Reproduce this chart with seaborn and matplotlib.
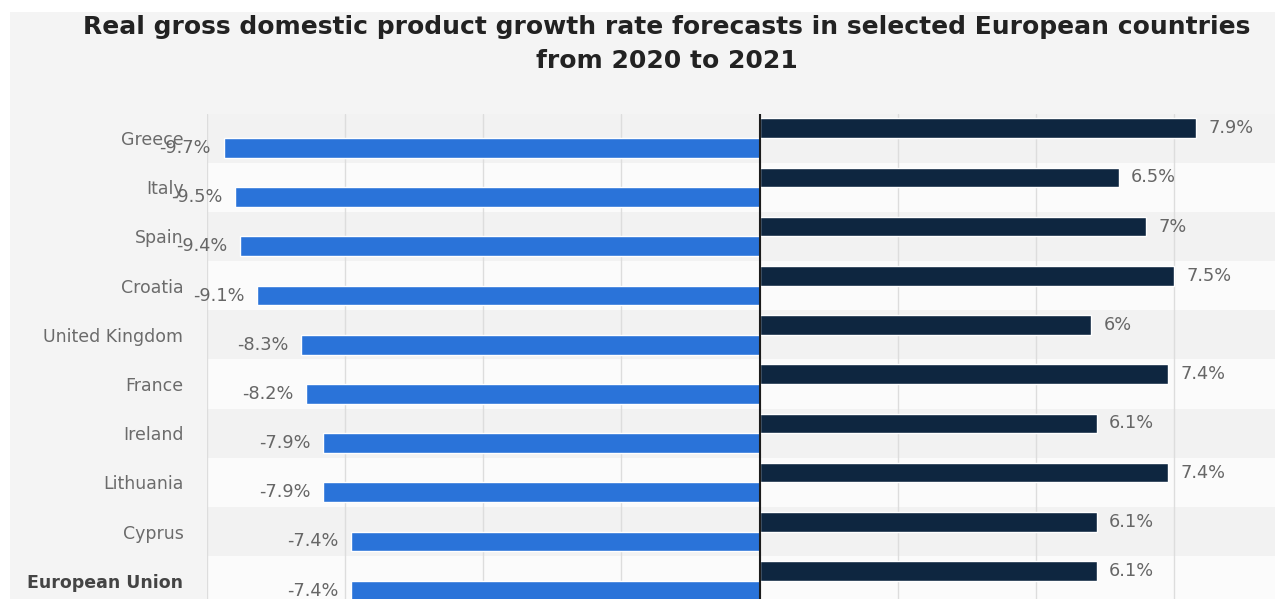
import matplotlib
matplotlib.use("Agg")
import matplotlib.pyplot as plt
from matplotlib.patches import Rectangle
import pandas as pd
import seaborn as sns

countries = ["Greece", "Italy", "Spain", "Croatia", "United Kingdom", "France",
             "Ireland", "Lithuania", "Cyprus", "European Union"]
growth_2020 = [-9.7, -9.5, -9.4, -9.1, -8.3, -8.2, -7.9, -7.9, -7.4, -7.4]
growth_2021 = [7.9, 6.5, 7.0, 7.5, 6.0, 7.4, 6.1, 7.4, 6.1, 6.1]
years = ["2021", "2020"]
title = ("Real gross domestic product growth rate forecasts in selected European countries\n"
         "from 2020 to 2021")

df = pd.DataFrame({
    "country": countries * 2,
    "growth": growth_2021 + growth_2020,
    "year": [years[0]] * len(countries) + [years[1]] * len(countries),
})

sns.set_theme(style="white")
plt.rcParams["font.family"] = ["DejaVu Sans"]

W, H = 1275, 599
fig = plt.figure(figsize=(W / 100, H / 100), dpi=100, facecolor="white")
fig.patches.append(Rectangle((10 / W, 0), 1 - 10 / W, 1 - 12 / H,
                             transform=fig.transFigure, facecolor="#f4f4f4",
                             edgecolor="none", zorder=-10))

ax = fig.add_axes([207 / W, 0, 1 - 207 / W, 485.5 / H])
ax.set_facecolor("#f9f9f9")

sns.barplot(data=df, y="country", x="growth", hue="year", hue_order=years,
            palette={"2021": "#0e2640", "2020": "#2a73d9"}, order=countries,
            orient="h", width=0.8, saturation=1, legend=False, ax=ax, zorder=2)

# alternating row bands
for i in range(len(countries)):
    ax.axhspan(i - 0.5, i + 0.5, color="#f2f2f2" if i % 2 == 0 else "#fbfbfb",
               zorder=0.1, lw=0)

ax.set_xlim(-10, 9.33)
ax.set_ylim(9.37, -0.5)
ax.set_xticks([-10, -7.5, -5, -2.5, 0, 2.5, 5, 7.5])
ax.xaxis.grid(True, color="#dddddd", lw=1)
ax.set_axisbelow(True)
ax.tick_params(axis="x", length=0, labelbottom=False)
ax.tick_params(axis="y", length=0, pad=17, labelsize=12.5, labelcolor="#6b6b6b")
ax.axvline(0, color="#1c1c1c", lw=1.5, zorder=3)
for s in ax.spines.values():
    s.set_visible(False)
ax.set_xlabel("")
ax.set_ylabel("")

eu = ax.get_yticklabels()[-1]
eu.set_fontweight("bold")
eu.set_color("#444444")

for cont, vals in zip(ax.containers, [growth_2021, growth_2020]):
    ax.bar_label(cont, labels=[f"{v:g}%" for v in vals], padding=9,
                 fontsize=12.8, color="#666666")

fig.text(667 / W, 1 - 15 / H, title, ha="center", va="top", fontsize=18,
         fontweight="bold", color="#222222", linespacing=1.55)

fig.savefig("out.png", dpi=100)
